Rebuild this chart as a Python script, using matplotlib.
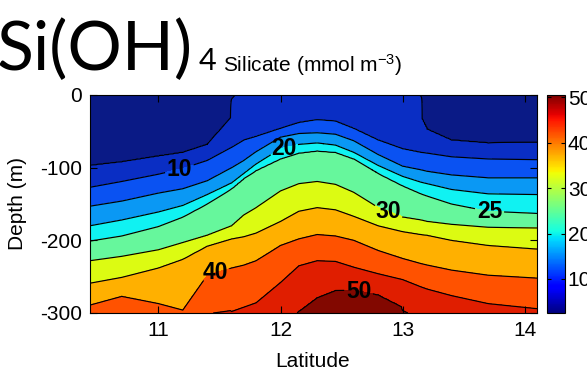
import numpy as np
import matplotlib
matplotlib.use("Agg")
import matplotlib.pyplot as plt
from matplotlib import cm, colors

plt.rcParams['font.family'] = ['Liberation Sans', 'DejaVu Sans']
plt.rcParams['mathtext.fontset'] = 'custom'
plt.rcParams['mathtext.rm'] = 'Liberation Sans'
plt.rcParams['mathtext.it'] = 'Liberation Sans'
plt.rcParams['axes.unicode_minus'] = False

# ---- data ----
lat = [10.44, 10.7, 11.0, 11.2, 11.4, 11.6, 11.7, 11.8, 12.0, 12.15, 12.3,
       12.45, 12.6, 12.8, 13.0, 13.15, 13.2, 13.4, 13.7, 14.1]
nan = np.nan
surface = [3, 3, 3, 3, 3.5, 4.6, 6, 6.5, 7, 7.5, 7.5, 7.5, 7, 6.5, 6, 4.9, 4.5, 3.5, 3, 3]
bottom = [41, 42, 41, 40.3, 44.9, 45.3, 46, 46.5, 48, 50.2, 51, 51, 51, 50.6, 50.4, 49, 48.5, 47, 46, 45.5]
# depth (m below surface) of each isoline at each latitude
d5 = [97, 92, 84, 79, 68, 30, nan, nan, nan, nan, nan, nan, nan, nan, nan, 30, 47, 62, 66, 65]
d10 = [127, 119, 109, 101, 90, 72, 62, 57, 46, 38, 34, 36, 46, 62, 74, 79, 80, 85, 88, 89]
d15 = [153, 146, 135, 129, 118, 100, 90, 78, 58, 53, 52, 54, 63, 82, 98, 103, 105, 110, 114, 114]
d20 = [180, 172, 161, 152, 137, 121, 108, 95, 74, 68, 66, 69, 79, 97, 112, 120, 122, 130, 136, 137]
d25 = [201, 194, 181, 168, 150, 129, 115, 104, 88, 80, 77, 79, 88, 108, 125, 136, 139, 150, 160, 163]
d30 = [228, 222, 213, 203, 193, 180, 165, 155, 132, 122, 119, 123, 134, 155, 168, 172, 174, 178, 182, 183]
d35 = [259, 251, 238, 226, 208, 198, 195, 190, 174, 160, 155, 158, 167, 180, 188, 192, 193, 200, 207, 212]
d40 = [289, 277, 287, 296, 248, 238, 234, 228, 207, 198, 192, 194, 200, 214, 225, 232, 234, 241, 248, 252]
d45 = [nan, nan, nan, nan, nan, 298, 292, 286, 258, 235, 228, 229, 237, 246, 254, 264, 267, 276, 287, 294]
d50 = [nan, nan, nan, nan, nan, nan, nan, nan, nan, 298, 279, 269, 268, 275, 292, nan, nan, nan, nan, nan]
iso_levels = [5, 10, 15, 20, 25, 30, 35, 40, 45, 50]
iso_depths = [d5, d10, d15, d20, d25, d30, d35, d40, d45, d50]
labeled_levels = [10, 20, 25, 30, 40, 50]

xticks = [11, 12, 13, 14]
yticks = [0, -100, -200, -300]
ytick_labels = ['0', '-100', '-200', '-300']
cbar_ticks = [10, 20, 30, 40, 50]
clim = (2.5, 50.5)

# contour label positions (lat, depth)
label_pos = [(11.18, -107), (12.02, -69), (12.88, -162), (13.71, -161),
             (11.47, -248), (12.63, -275)]

# band fill colours (below 5, 5-10, ..., above 50)
band_colors = ['#0a1a86', '#0a2ec4', '#0a52f2', '#0a98f4', '#10f2f2', '#66f79c',
               '#dcfb12', '#ffb000', '#ff5200', '#e01e00', '#820800']

# ---- build the field: isoline depths are joined linearly between the read
# latitudes, then each vertical profile is linear between isolines ----
lat_a = np.array(lat)
depth = np.arange(0, 301, 1.0)
xs = np.linspace(lat_a[0], lat_a[-1], 367)
seg = np.clip(np.searchsorted(lat_a, xs, side='right') - 1, 0, len(lat_a) - 2)
frac = (xs - lat_a[seg]) / (lat_a[seg + 1] - lat_a[seg])


def along(arr):
    a = np.array(arr, dtype=float)
    return a[seg] * (1 - frac) + a[seg + 1] * frac   # NaN where a side is missing


surf_f = along(surface)
bot_f = along(bottom)
iso_f = [along(a) for a in iso_depths]
Z = np.empty((len(depth), len(xs)))
for j in range(len(xs)):
    dd = [0.0]
    vv = [surf_f[j]]
    for lev, arr in zip(iso_levels, iso_f):
        d = arr[j]
        if not np.isnan(d) and dd[-1] < d < 300:
            dd.append(d); vv.append(lev)
    dd.append(300.0); vv.append(bot_f[j])
    Z[:, j] = np.interp(depth, dd, vv)

W, H = 587, 369
fig = plt.figure(figsize=(W / 100, H / 100), dpi=100)
ax = fig.add_axes([90 / W, (H - 313) / H, 447 / W, 218 / H])

jet = plt.get_cmap('jet')
fill_levels = [0] + iso_levels + [60]
ax.contourf(xs, -depth, Z, levels=fill_levels, colors=band_colors)
plain_levels = [l for l in iso_levels if l not in labeled_levels]
ax.contour(xs, -depth, Z, levels=plain_levels, colors='k', linewidths=0.85)
cs = ax.contour(xs, -depth, Z, levels=labeled_levels, colors='k', linewidths=0.85)
texts = cs.clabel(manual=label_pos, fmt='%d', fontsize=16.5, inline=True,
                  inline_spacing=2)
for t in texts:
    t.set_rotation(0)
    t.set_fontweight('bold')

ax.set_xlim(10.44, 14.1)
ax.set_ylim(-300, 0)
ax.set_xticks(xticks)
ax.set_xticklabels([str(t) for t in xticks])
ax.set_yticks(yticks)
ax.set_yticklabels(ytick_labels)
ax.tick_params(direction='in', top=True, right=True, length=5, width=0.8,
               labelsize=15, colors='k')
ax.tick_params(axis='x', pad=6)
ax.tick_params(axis='y', pad=6)
for s in ax.spines.values():
    s.set_linewidth(0.8)

fig.text(313 / W, (H - 352) / H, 'Latitude', ha='center', va='top', fontsize=15)
fig.text(18 / W, (H - 204) / H, 'Depth (m)', ha='center', va='center',
         rotation=90, fontsize=15)

# colorbar
cax = fig.add_axes([547 / W, (H - 313) / H, 18 / W, 218 / H])
sm = cm.ScalarMappable(norm=colors.Normalize(*clim), cmap=jet)
cb = fig.colorbar(sm, cax=cax, ticks=cbar_ticks)
cb.outline.set_linewidth(0.8)
cax.tick_params(direction='in', left=True, right=True, length=3, width=0.8,
                labelsize=15, pad=2)
cax.set_yticklabels([str(t) for t in cbar_ticks])

# titles
fig.text(313 / W, (H - 72) / H, 'Silicate (mmol m$^{-3}$)', ha='center',
         va='baseline', fontsize=15)
fig.text(-3 / W, (H - 70) / H, 'Si(OH)', ha='left', va='baseline',
         fontsize=49, family=['Lato', 'DejaVu Sans'])
fig.text(199 / W, (H - 70) / H, '4', ha='left', va='baseline',
         fontsize=22, family=['Lato', 'DejaVu Sans'])

fig.savefig('out.png', dpi=100)
